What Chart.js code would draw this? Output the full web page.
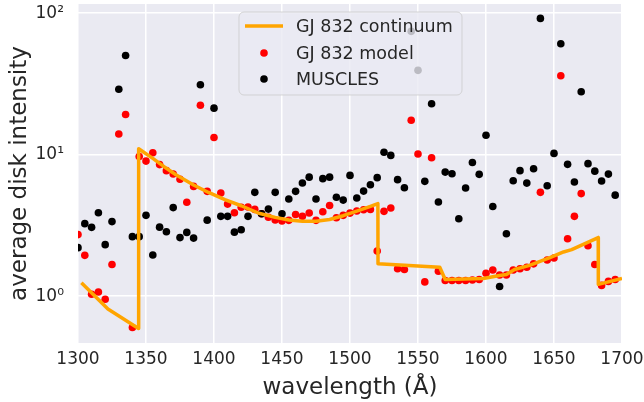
<!DOCTYPE html>
<html>
<head>
<meta charset="utf-8">
<script src="https://cdn.jsdelivr.net/npm/chart.js@4.4.1/dist/chart.umd.min.js"></script>
<style>
  html, body { margin: 0; padding: 0; background: #fff; }
  #wrap { width: 644px; height: 402px; }
</style>
</head>
<body>
<div id="wrap"><canvas id="chart" width="644" height="402"></canvas></div>
<script>
// wavelength grid of the binned spectra (Å)
const wavelengths = [
  1300, 1305, 1310, 1315, 1320, 1325, 1330, 1335, 1340, 1345,
  1350, 1355, 1360, 1365, 1370, 1375, 1380, 1385, 1390, 1395,
  1400, 1405, 1410, 1415, 1420, 1425, 1430, 1435, 1440, 1445,
  1450, 1455, 1460, 1465, 1470, 1475, 1480, 1485, 1490, 1495,
  1500, 1505, 1510, 1515, 1520, 1525, 1530, 1535, 1540, 1545,
  1550, 1555, 1560, 1565, 1570, 1575, 1580, 1585, 1590, 1595,
  1600, 1605, 1610, 1615, 1620, 1625, 1630, 1635, 1640, 1645,
  1650, 1655, 1660, 1665, 1670, 1675, 1680, 1685, 1690, 1695
];

const modelValues = [
  2.72, 1.94, 1.03, 1.07, 0.95, 1.67, 14.0, 19.2, 0.60, 9.7,
  9.0, 10.3, 8.5, 7.7, 7.3, 6.7, 4.6, 5.96, 22.3, 5.5,
  13.2, 5.35, 4.47, 3.88, 4.24, 4.26, 4.1, 3.82, 3.61, 3.45,
  3.40, 3.43, 3.77, 3.66, 3.87, 3.43, 3.95, 4.37, 3.58, 3.72,
  3.86, 3.99, 4.08, 4.1, 2.08, 3.97, 4.19, 1.56, 1.54, 17.5,
  10.1, 1.26, 9.5, 1.50, 1.29, 1.29, 1.29, 1.29, 1.30, 1.31,
  1.45, 1.53, 1.41, 1.41, 1.53, 1.56, 1.60, 1.69, 5.41, 1.80,
  1.86, 36.1, 2.54, 3.66, 5.3, 2.27, 1.67, 1.19, 1.27, 1.31
];

const musclesValues = [
  2.2, 3.25, 3.06, 3.88, 2.31, 3.36, 29.0, 50.2, 2.63, 2.63,
  3.72, 1.95, 3.07, 2.85, 4.22, 2.59, 2.82, 2.57, 31.2, 3.44,
  21.3, 3.66, 3.66, 2.83, 2.94, 3.66, 5.41, 3.82, 4.12, 5.41,
  3.82, 4.85, 5.5, 6.3, 6.93, 4.85, 6.76, 6.93, 5.0, 4.77,
  7.13, 4.93, 5.52, 6.12, 6.87, 10.4, 9.87, 6.65, 5.83, 74.3,
  39.4, 6.47, 22.9, 4.62, 7.52, 7.33, 3.52, 5.8, 8.8, 7.25,
  13.7, 4.3, 1.17, 2.76, 6.54, 7.7, 6.29, 7.95, 91.8, 6.03,
  10.2, 60.8, 8.53, 6.4, 27.8, 8.63, 7.64, 6.5, 7.28, 5.17
];

// continuum curve, own sampling
const contWavelengths = [
  1302.5, 1322, 1344.5, 1344.6, 1355, 1365, 1372, 1385, 1396, 1408,
  1420, 1433, 1445, 1455, 1465, 1475, 1485, 1495, 1505, 1515,
  1520.5, 1520.6, 1566, 1570, 1598, 1610, 1615, 1621, 1632, 1647,
  1657, 1663, 1682.5, 1682.6, 1700
];
const contValues = [
  1.24, 0.81, 0.59, 11.0, 9.4, 8.0, 7.2, 6.1, 5.4, 4.8,
  4.35, 3.85, 3.6, 3.45, 3.38, 3.38, 3.48, 3.7, 3.98, 4.3,
  4.5, 1.69, 1.60, 1.31, 1.33, 1.40, 1.42, 1.54, 1.65, 1.87,
  2.05, 2.13, 2.59, 1.21, 1.33
];

const yTickValues = [1, 10, 100];
const yTickLabels = ['10⁰', '10¹', '10²'];

const seriesNames = ['GJ 832 continuum', 'GJ 832 model', 'MUSCLES'];

const FONT = "'DejaVu Sans', sans-serif";
const TEXT = '#262626';

const toXY = (xs, ys) => xs.map((x, i) => ({ x: x, y: ys[i] }));

// make sure the plot area stops where the x scale ends
const trimArea = {
  id: 'trimArea',
  afterLayout(chart) {
    const xs = chart.scales.x;
    const a = chart.chartArea;
    const right = Math.min(a.right, Math.round(xs.getPixelForValue(xs.max)));
    a.right = right;
    a.width = right - a.left;
  }
};

// seaborn style grey panel
const panelBg = {
  id: 'panelBg',
  beforeDraw(chart) {
    const { ctx, chartArea: a } = chart;
    ctx.save();
    ctx.fillStyle = '#EAEAF2';
    ctx.fillRect(a.left, a.top, a.right - a.left, a.bottom - a.top);
    ctx.restore();
  }
};

// legend box drawn inside the plot, like matplotlib's
const innerLegend = {
  id: 'innerLegend',
  afterDraw(chart) {
    const ctx = chart.ctx;
    const box = { x: 239, y: 12, w: 223, h: 83, r: 5 };
    ctx.save();
    ctx.beginPath();
    ctx.roundRect(box.x, box.y, box.w, box.h, box.r);
    ctx.fillStyle = 'rgba(234,234,242,0.8)';
    ctx.fill();
    ctx.strokeStyle = 'rgba(204,204,204,0.8)';
    ctx.lineWidth = 1;
    ctx.stroke();

    const rows = [26, 53, 79];
    const ds = chart.data.datasets;
    // line sample
    ctx.beginPath();
    ctx.moveTo(245, rows[0]);
    ctx.lineTo(283, rows[0]);
    ctx.strokeStyle = ds[0].borderColor;
    ctx.lineWidth = 3.5;
    ctx.stroke();
    // markers
    [1, 2].forEach(i => {
      ctx.beginPath();
      ctx.arc(264, rows[i], 3.8, 0, Math.PI * 2);
      ctx.fillStyle = ds[i].backgroundColor;
      ctx.fill();
    });
    ctx.fillStyle = TEXT;
    ctx.font = '17.5px ' + FONT;
    ctx.textBaseline = 'middle';
    ctx.textAlign = 'left';
    ds.forEach((d, i) => ctx.fillText(d.label, 296, rows[i] + 1));
    ctx.restore();
  }
};

new Chart(document.getElementById('chart'), {
  type: 'scatter',
  data: {
    datasets: [
      {
        type: 'line',
        label: seriesNames[0],
        data: toXY(contWavelengths, contValues),
        borderColor: '#FFA500',
        backgroundColor: '#FFA500',
        borderWidth: 3.5,
        borderJoinStyle: 'round',
        pointRadius: 0,
        tension: 0,
        fill: false,
        clip: 0,
        order: 0
      },
      {
        label: seriesNames[1],
        data: toXY(wavelengths, modelValues),
        backgroundColor: '#FF0000',
        borderWidth: 0,
        pointRadius: 3.8,
        clip: 0,
        order: 2
      },
      {
        label: seriesNames[2],
        data: toXY(wavelengths, musclesValues),
        backgroundColor: '#000000',
        borderWidth: 0,
        pointRadius: 3.8,
        clip: 0,
        order: 1
      }
    ]
  },
  options: {
    responsive: false,
    animation: false,
    devicePixelRatio: 1,
    layout: { padding: { top: 1, right: 0, left: 0, bottom: 0 } },
    plugins: {
      legend: { display: false },
      tooltip: { enabled: false }
    },
    scales: {
      x: {
        type: 'linear',
        min: 1300,
        max: 1700,
        afterFit(scale) {
          scale.height = 59;
          scale.paddingLeft = 0;
          scale.paddingRight = 22;
        },
        border: { display: false },
        grid: { color: '#FFFFFF', lineWidth: 1.5, drawTicks: false },
        ticks: {
          stepSize: 50,
          color: TEXT,
          padding: 6,
          maxRotation: 0,
          font: { family: FONT, size: 17 },
          callback: (value) => String(value)
        },
        title: {
          display: true,
          text: 'wavelength (Å)',
          color: TEXT,
          padding: { top: 0, bottom: 0 },
          font: { family: FONT, size: 23 }
        }
      },
      y: {
        type: 'logarithmic',
        min: 0.466,
        max: 116,
        afterFit(scale) {
          scale.width = 78;
          scale.paddingTop = 0;
          scale.paddingBottom = 0;
        },
        afterBuildTicks(scale) {
          scale.ticks = yTickValues.map(v => ({ value: v, major: true }));
        },
        border: { display: false },
        grid: { color: '#FFFFFF', lineWidth: 1.5, drawTicks: false },
        ticks: {
          color: TEXT,
          padding: 14,
          font: { family: FONT, size: 17 },
          callback(value) {
            const i = yTickValues.indexOf(value);
            return i >= 0 ? yTickLabels[i] : '';
          }
        },
        title: {
          display: true,
          text: 'average disk intensity',
          color: TEXT,
          padding: { top: 6, bottom: 0 },
          font: { family: FONT, size: 23 }
        }
      }
    }
  },
  plugins: [trimArea, panelBg, innerLegend]
});
</script>
</body>
</html>
